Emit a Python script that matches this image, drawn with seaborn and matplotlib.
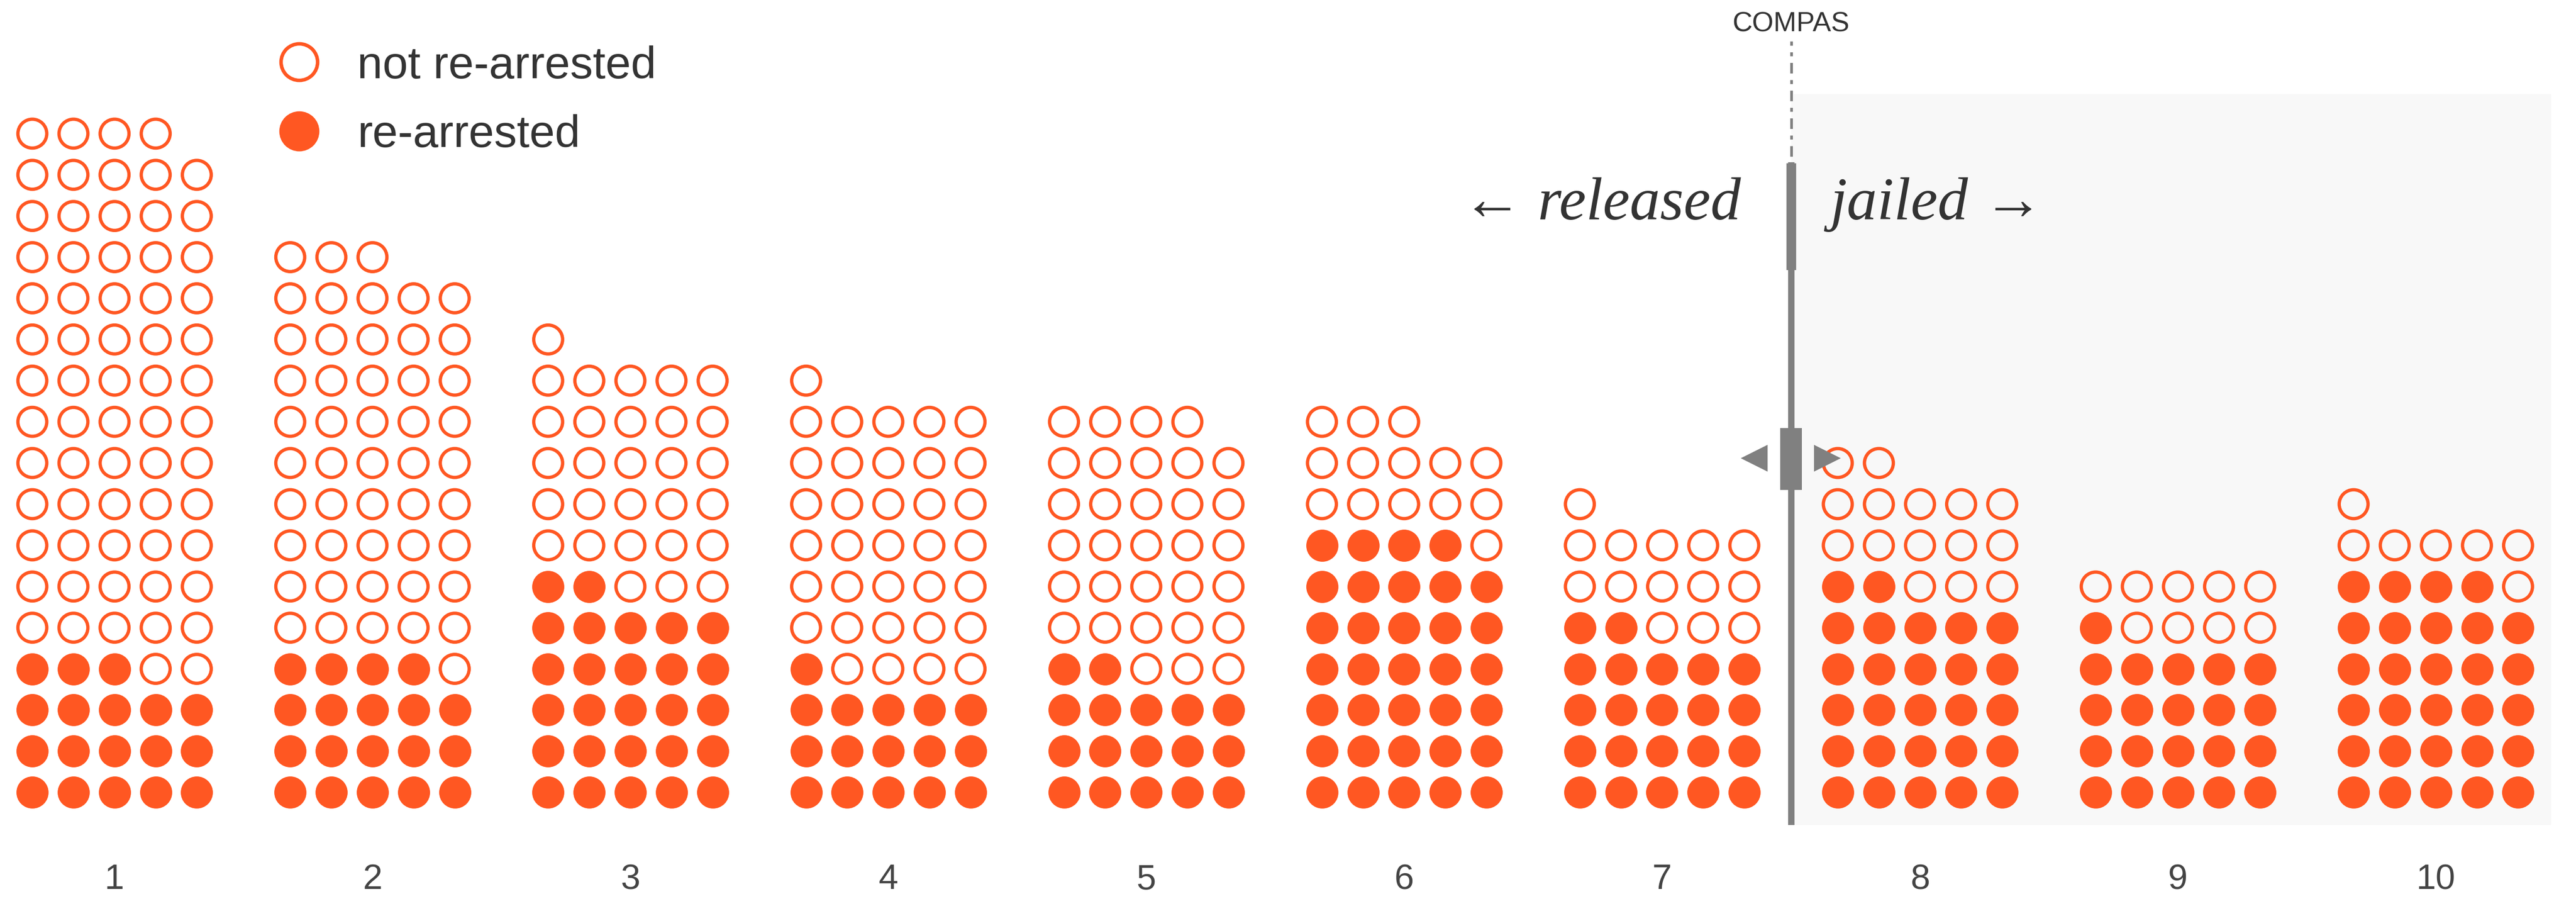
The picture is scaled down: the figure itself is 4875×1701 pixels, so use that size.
import numpy as np
import pandas as pd
import matplotlib.pyplot as plt
from matplotlib.lines import Line2D
from matplotlib.patches import Rectangle
import seaborn as sns

# COMPAS score and how many defendants (dots) of each outcome per score
scores = [1, 2, 3, 4, 5, 6, 7, 8, 9, 10]
re_arrested = [18, 19, 27, 16, 17, 34, 22, 27, 21, 29]
not_re_arrested = [66, 49, 29, 35, 32, 14, 14, 15, 9, 7]
legend_labels = ["not re-arrested", "re-arrested"]
threshold = 7.5

ORANGE = "#FF5722"
GREY = "#808080"
TEXT = "#333333"
PER_ROW = 5
DOT_DX = 0.1594   # horizontal spacing of dots, in score units

# stack dots 5 per row, re-arrested first
recs = []
for s, nf, no in zip(scores, re_arrested, not_re_arrested):
    for i in range(nf + no):
        recs.append({"score": s,
                     "x": s + (i % PER_ROW - 2) * DOT_DX,
                     "row": i // PER_ROW,
                     "status": "re-arrested" if i < nf else "not re-arrested"})
df = pd.DataFrame(recs)

sns.set_style("white")
plt.rcParams["font.family"] = ["Liberation Sans", "DejaVu Sans"]

fig = plt.figure(figsize=(16.25, 5.67), dpi=300)
ax = fig.add_axes([0, 0.0685, 1, 0.9315])
ax.set_facecolor("none")

# light shading on the jailed side
ax.add_patch(Rectangle((threshold, -0.79), 10.447 - threshold, 16.96 + 0.79,
                       facecolor="#f8f8f8", lw=0, zorder=0))

sns.scatterplot(data=df[df.status == "re-arrested"], x="x", y="row",
                color=ORANGE, s=213, linewidth=0, ax=ax, legend=False, zorder=3)
sns.scatterplot(data=df[df.status == "not re-arrested"], x="x", y="row",
                color=ORANGE, facecolors="none", edgecolor=ORANGE, s=172,
                linewidth=1.5, ax=ax, legend=False, zorder=3)

# threshold slider
ax.plot([threshold, threshold], [-0.79, 15.3], color=GREY, lw=2.9,
        solid_capstyle="butt", zorder=2)
ax.plot([threshold, threshold], [12.68, 15.28], color=GREY, lw=4.4,
        solid_capstyle="butt", zorder=2)
ax.plot([threshold, threshold], [15.44, 18.24], color=GREY, lw=1.2,
        ls=(0, (4, 2.5, 1.5, 2.5)), zorder=2)
ax.add_patch(Rectangle((threshold - 0.0417, 7.34), 0.0834, 1.51,
                       facecolor=GREY, lw=0, zorder=4))
ax.plot([threshold - 0.14], [8.12], marker="<", ms=10.5, color=GREY, ls="", zorder=4)
ax.plot([threshold + 0.139], [8.12], marker=">", ms=10.5, color=GREY, ls="", zorder=4)

ax.text(threshold, 18.65, "COMPAS", ha="center", va="center", fontsize=12.5, color=TEXT)
serif = ["Liberation Serif", "DejaVu Serif"]
ax.text(threshold - 0.195, 13.92, "\u2190 released", ha="right", va="baseline",
        fontsize=27.5, style="italic", family=serif, color=TEXT)
ax.text(threshold + 0.151, 13.92, "jailed \u2192", ha="left", va="baseline",
        fontsize=27.5, style="italic", family=serif, color=TEXT)

handles = [Line2D([], [], marker="o", ls="", ms=16.6, mfc="none", mec=ORANGE, mew=1.6),
           Line2D([], [], marker="o", ls="", ms=18.2, mfc=ORANGE, mec="none")]
leg = ax.legend(handles, legend_labels, loc="upper left", bbox_to_anchor=(0.1002, 0.970),
                bbox_transform=fig.transFigure, frameon=False, fontsize=20.7,
                handlelength=1.0, handletextpad=0.77, labelspacing=0.59,
                borderpad=0.4, borderaxespad=0)
for t in leg.get_texts():
    t.set_color(TEXT)

ax.set_xlim(0.5558, 10.5434)
ax.set_ylim(-1.094, 19.246)
ax.set_xticks(scores)
ax.set_xticklabels([str(s) for s in scores])
ax.tick_params(axis="x", length=0, pad=12, labelsize=16, labelcolor="#444444")
ax.set_yticks([])
ax.set_xlabel("")
ax.set_ylabel("")
sns.despine(ax=ax, left=True, bottom=True)

fig.savefig("out.png", dpi=300)
